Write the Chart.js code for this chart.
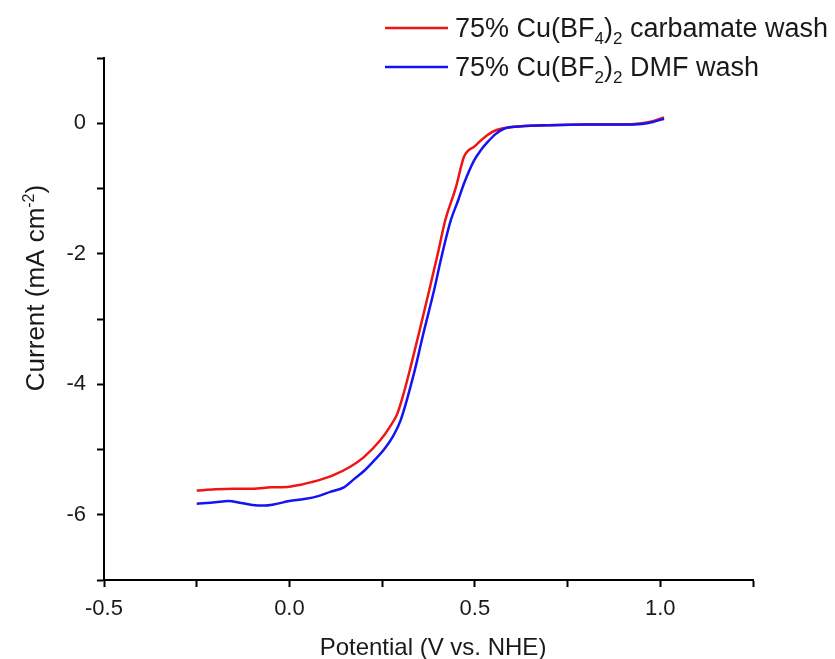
<!DOCTYPE html>
<html>
<head>
<meta charset="utf-8">
<script src="https://cdn.jsdelivr.net/npm/chart.js@4/dist/chart.umd.min.js"></script>
<style>
  html, body { margin: 0; padding: 0; background: #fff; }
  #wrap { width: 835px; height: 659px; }
</style>
</head>
<body>
<div id="wrap"><canvas id="chart" width="835" height="659"></canvas></div>
<script>
// potential (V vs. NHE) and current (mA cm-2)
const carbamateV = [-0.25, -0.20, -0.15, -0.10, -0.05, 0.00, 0.03, 0.06, 0.08, 0.12, 0.165, 0.20, 0.246, 0.27, 0.291, 0.31, 0.327, 0.35, 0.377, 0.40, 0.42, 0.449, 0.471, 0.50, 0.534, 0.56, 0.597, 0.65, 0.70, 0.80, 0.90, 0.95, 0.98, 1.01];
const carbamateJ = [-5.63, -5.61, -5.60, -5.60, -5.58, -5.57, -5.54, -5.50, -5.47, -5.39, -5.26, -5.12, -4.85, -4.66, -4.45, -4.10, -3.73, -3.20, -2.56, -2.00, -1.49, -0.98, -0.51, -0.35, -0.18, -0.10, -0.06, -0.04, -0.03, -0.02, -0.02, 0.00, 0.03, 0.09];

const dmfV = [-0.25, -0.20, -0.165, -0.13, -0.10, -0.07, -0.04, 0.00, 0.04, 0.08, 0.11, 0.147, 0.175, 0.201, 0.23, 0.255, 0.28, 0.30, 0.336, 0.36, 0.39, 0.41, 0.435, 0.455, 0.471, 0.498, 0.515, 0.534, 0.555, 0.58, 0.62, 0.70, 0.80, 0.90, 0.95, 0.98, 1.01];
const dmfJ = [-5.83, -5.81, -5.79, -5.82, -5.85, -5.86, -5.84, -5.79, -5.76, -5.71, -5.65, -5.58, -5.45, -5.33, -5.16, -5.00, -4.79, -4.55, -3.83, -3.25, -2.56, -2.05, -1.49, -1.18, -0.92, -0.57, -0.42, -0.29, -0.17, -0.08, -0.05, -0.03, -0.02, -0.02, -0.01, 0.02, 0.07];

const xMin = -0.5, xMax = 1.25, xStep = 0.25;
const yMin = -7, yMax = 1, yStep = 1;

const FONT = '"Liberation Sans", Arial, sans-serif';

function pts(xs, ys) {
  return xs.map((x, i) => ({ x: x, y: ys[i] }));
}

// text with sub/superscript pieces: [text, 'sub' | 'sup' | '']
function drawRich(ctx, parts, x, y, size) {
  let cx = x;
  parts.forEach(([t, kind]) => {
    const s = kind ? Math.round(size * 0.62) : size;
    ctx.font = s + 'px ' + FONT;
    let dy = 0;
    if (kind === 'sub') dy = size * 0.27;
    if (kind === 'sup') dy = -size * 0.38;
    ctx.fillText(t, cx, y + dy);
    cx += ctx.measureText(t).width;
  });
  return cx - x;
}

function richWidth(ctx, parts, size) {
  let w = 0;
  parts.forEach(([t, kind]) => {
    const s = kind ? Math.round(size * 0.62) : size;
    ctx.font = s + 'px ' + FONT;
    w += ctx.measureText(t).width;
  });
  return w;
}

const legendItems = [
  { color: '#f01414', parts: [['75% Cu(BF', ''], ['4', 'sub'], [')', ''], ['2', 'sub'], [' carbamate wash', '']] },
  { color: '#1414f0', parts: [['75% Cu(BF', ''], ['2', 'sub'], [')', ''], ['2', 'sub'], [' DMF wash', '']] }
];

const decor = {
  id: 'decor',
  afterDraw(chart) {
    const ctx = chart.ctx;
    ctx.save();
    ctx.fillStyle = '#1a1a1a';
    ctx.textBaseline = 'alphabetic';
    ctx.textAlign = 'left';

    // legend
    legendItems.forEach((it, i) => {
      const ly = 28 + i * 39;
      ctx.strokeStyle = it.color;
      ctx.lineWidth = 2.5;
      ctx.beginPath();
      ctx.moveTo(385, ly);
      ctx.lineTo(448, ly);
      ctx.stroke();
      drawRich(ctx, it.parts, 455, ly + 9, 27);
    });

    // x title
    const xt = [['Potential (V vs. NHE)', '']];
    const xw = richWidth(ctx, xt, 24);
    drawRich(ctx, xt, 433 - xw / 2, 655, 24);

    // y title
    const yt = [['Current (mA cm', ''], ['-2', 'sup'], [')', '']];
    const yw = richWidth(ctx, yt, 26);
    ctx.translate(44, 288);
    ctx.rotate(-Math.PI / 2);
    drawRich(ctx, yt, -yw / 2, 0, 26);
    ctx.restore();
  }
};

const isMult = (v, m) => Math.abs(v / m - Math.round(v / m)) < 1e-9;

new Chart(document.getElementById('chart'), {
  type: 'line',
  data: {
    datasets: [
      {
        label: '75% Cu(BF4)2 carbamate wash',
        data: pts(carbamateV, carbamateJ),
        borderColor: '#f01414',
        borderWidth: 2.5,
        pointRadius: 0,
        cubicInterpolationMode: 'monotone',
        fill: false,
        order: 1
      },
      {
        label: '75% Cu(BF2)2 DMF wash',
        data: pts(dmfV, dmfJ),
        borderColor: '#1414f0',
        borderWidth: 2.5,
        pointRadius: 0,
        cubicInterpolationMode: 'monotone',
        fill: false,
        order: 0
      }
    ]
  },
  options: {
    responsive: false,
    animation: false,
    devicePixelRatio: 1,
    layout: { padding: { top: 58, right: 82, left: 0, bottom: 0 } },
    plugins: {
      legend: { display: false },
      tooltip: { enabled: false }
    },
    scales: {
      x: {
        type: 'linear',
        min: xMin,
        max: xMax,
        border: { color: '#000', width: 2 },
        grid: { drawOnChartArea: false, drawTicks: true, tickLength: 7, tickWidth: 2, tickColor: '#000' },
        ticks: {
          stepSize: xStep,
          padding: 9,
          color: '#1a1a1a',
          font: { family: FONT, size: 22 },
          maxRotation: 0,
          autoSkip: false,
          callback: v => isMult(v, 0.5) ? v.toFixed(1) : ''
        },
        afterFit: s => { s.height = 79; }
      },
      y: {
        type: 'linear',
        min: yMin,
        max: yMax,
        border: { color: '#000', width: 2 },
        grid: { drawOnChartArea: false, drawTicks: true, tickLength: 7, tickWidth: 2, tickColor: '#000' },
        ticks: {
          stepSize: yStep,
          padding: 11,
          color: '#1a1a1a',
          font: { family: FONT, size: 22 },
          autoSkip: false,
          callback: v => isMult(v, 2) ? String(v) : ''
        },
        afterFit: s => { s.width = 104; }
      }
    }
  },
  plugins: [decor]
});
</script>
</body>
</html>
